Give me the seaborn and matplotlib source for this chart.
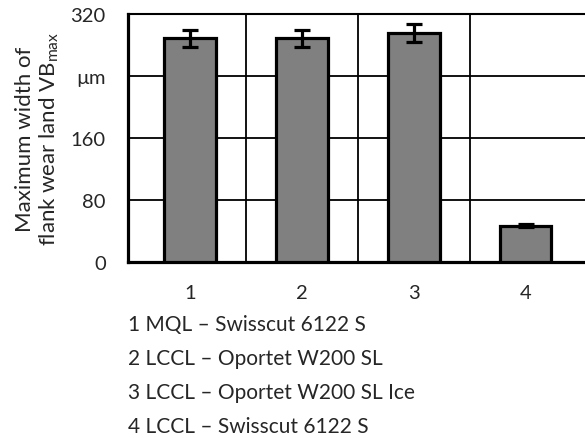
import matplotlib
matplotlib.use("Agg")
import pandas as pd
import matplotlib.pyplot as plt
import seaborn as sns

# bar data
fluids = ["1", "2", "3", "4"]
vb_max = [289, 289, 295, 47]
vb_err = [11, 11, 11.5, 2]
y_ticks = [0, 80, 160, 240, 320]
y_tick_labels = ["0", "80", "160", "µm", "320"]
legend_lines = [
    "1 MQL – Swisscut 6122 S",
    "2 LCCL – Oportet W200 SL",
    "3 LCCL – Oportet W200 SL Ice",
    "4 LCCL – Swisscut 6122 S",
]

sns.set_style("white")
plt.rcParams['font.family'] = ['Lato', 'DejaVu Sans']
plt.rcParams['mathtext.default'] = 'regular'
plt.rcParams['font.size'] = 14

df = pd.DataFrame({"fluid": fluids, "vb": vb_max})

W, H = 585, 439
fig = plt.figure(figsize=(W / 100, H / 100), dpi=100)
ax = fig.add_axes([128 / W, (H - 263) / H, 1 - 128 / W, 248 / H])

sns.barplot(data=df, x="fluid", y="vb", color="#808080", saturation=1,
            width=0.46, edgecolor="black", linewidth=2.3, errorbar=None, ax=ax, zorder=3)
ax.errorbar(range(len(fluids)), vb_max, yerr=vb_err, fmt="none", ecolor="black",
            elinewidth=2.3, capsize=5.5, capthick=2.3, zorder=4)

ax.set_xlim(-0.554, 3.53)
ax.set_ylim(0, 320)
ax.set_yticks(y_ticks)
ax.set_yticklabels(y_tick_labels)
ax.set_xticks([0.5, 1.5, 2.5], minor=True)
ax.set_axisbelow(True)
ax.grid(axis="y", which="major", color="black", linewidth=1.3)
ax.grid(axis="x", which="minor", color="black", linewidth=1.3)
ax.grid(axis="x", which="major", visible=False)
ax.tick_params(axis="both", which="both", length=0, labelsize=14.5)
ax.tick_params(axis="y", pad=16)
ax.tick_params(axis="x", pad=16)

for side in ["left", "bottom"]:
    ax.spines[side].set_color("black")
    ax.spines[side].set_linewidth(2.3)
ax.spines["top"].set_color("black")
ax.spines["top"].set_linewidth(1.5)
ax.spines["right"].set_visible(False)

ax.set_xlabel("")
ax.set_ylabel("Maximum width of\nflank wear land VB$_{max}$", fontsize=16,
              labelpad=7, linespacing=1.15)

for i, line in enumerate(legend_lines):
    fig.text(128 / W, 1 - (325 + 34 * i) / H, line, fontsize=15, va="center", ha="left")

plt.savefig("out.png", dpi=100)
